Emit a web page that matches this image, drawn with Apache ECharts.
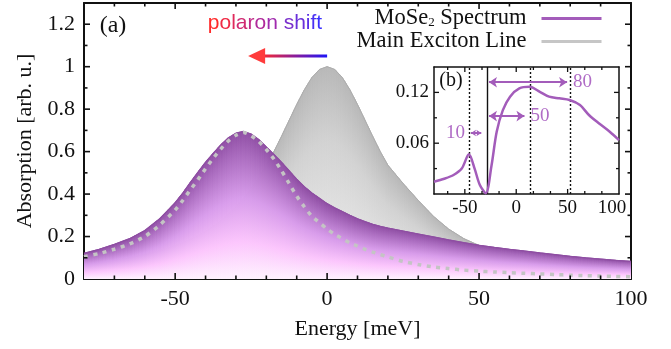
<!DOCTYPE html>
<html>
<head>
<meta charset="utf-8">
<script src="https://cdn.jsdelivr.net/npm/echarts@6/dist/echarts.min.js"></script>
<style>
html, body { margin: 0; padding: 0; background: #fff; }
#chart { width: 671px; height: 349px; }
</style>
</head>
<body>
<div id="chart"></div>
<script>
// main panel (a)
const energy = [-80,-75,-70,-65,-60,-55,-50,-47.5,-45,-42.5,-40,-37.5,-35,-32.5,-30,-27.5,-25,-22.5,-20,-17.5,-15,-12.5,-10,-7.5,-5,-2.5,0,2.5,5,7.5,10,12.5,15,17.5,20,25,30,35,40,45,50,55,60,65,70,75,80,85,90,95,100];
const mose2 = [0.121,0.14,0.163,0.19,0.228,0.285,0.36,
  0.405,0.455,0.503,0.55,0.592,0.632,0.665,0.687,0.695,0.683,0.657,0.622,0.587,0.55,0.51,0.47,0.435,0.405,0.38,0.355,0.335,0.318,0.3,0.284,0.27,0.258,0.248,0.24,
  0.226,0.212,0.198,0.184,0.171,0.159,0.149,0.14,0.132,0.123,0.115,0.107,0.1,0.094,0.088,0.083];
const exciton = [0.067,0.076,0.086,0.099,0.114,0.133,0.156,
  0.17,0.186,0.204,0.224,0.247,0.274,0.304,0.339,0.379,0.425,0.477,0.536,0.6,0.672,0.747,0.822,0.891,0.949,0.987,1,0.987,0.949,0.891,0.822,0.747,0.672,0.6,0.536,
  0.45,0.37,0.295,0.235,0.19,0.158,0.134,0.115,0.1,0.087,0.077,0.068,0.061,0.055,0.05,0.045];
const shifted = [0.105,0.12,0.14,0.165,0.2,0.255,0.325,
  0.37,0.42,0.468,0.52,0.568,0.612,0.65,0.677,0.69,0.675,0.648,0.61,0.565,0.51,0.45,0.39,0.34,0.295,0.265,0.235,0.21,0.19,0.17,0.155,0.14,0.127,0.115,0.104,
  0.083,0.068,0.057,0.049,0.042,0.037,0.033,0.03,0.027,0.024,0.021,0.018,0.016,0.014,0.012,0.011];

// inset (b)
const insetEnergy = [-80,-70,-61,-53,-46,-40.5,-35.5,-29.6,-24,-19,-13,-6,3,13,23,32,42,52,62,71,81,91,100];
const insetAbs = [0.0145,0.018,0.0224,0.03,0.047,0.03,0.011,0.001,0.034,0.0735,0.099,0.115,0.1247,0.1266,0.1207,0.115,0.113,0.111,0.105,0.093,0.083,0.0735,0.0637];
const insetDotted = [-46, 14, 53];
const insetSolid = -28.5;
const insetArrows = [
  {from: -44, to: -34, y: 0.072, label: '10', pos: 'start', head: 5},
  {from: -26.5, to: 8, y: 0.092, label: '50', pos: 'end', head: 8},
  {from: -26.5, to: 49.5, y: 0.132, label: '80', pos: 'end', head: 8}
];

// tick marks (mirrored on all four sides of each frame)
const mainXMajor = [-50, 0, 50];
const mainXMinor = [-70, -60, -40, -30, -20, -10, 10, 20, 30, 40, 60, 70, 80, 90];
const mainYMajor = [0.2, 0.4, 0.6, 0.8, 1.0, 1.2];
const mainYMinor = [0.1, 0.3, 0.5, 0.7, 0.9, 1.1];
const insetXMajor = [-50, 0, 50];
const insetXMinor = [-66.7, -33.3, -16.7, 16.7, 33.3, 66.7, 83.3];
const insetYMajor = [0.06, 0.12];
const insetYMinor = [0.03, 0.09];

const SERIF = 'Liberation Serif';
const INK = '#111';
const PURPLE = '#a35cba';

const pairs = (xs, ys) => xs.map((x, i) => [x, ys[i]]);

// area under a curve, every thin slice shaded from its own top down to zero
function columnFill(name, ys, stops, z) {
  return {
    name: name,
    type: 'custom',
    xAxisIndex: 0,
    yAxisIndex: 0,
    z: z,
    silent: true,
    clip: true,
    data: energy.map((x, i) => {
      let j = Math.min(i + 1, energy.length - 1);
      return [x, ys[i], energy[j], ys[j]];
    }),
    encode: {x: [0, 2], y: [1, 3]},
    renderItem: function (params, api) {
      if (params.dataIndex >= energy.length - 1) return {type: 'group', children: []};
      let a = api.coord([api.value(0), api.value(1)]);
      let b = api.coord([api.value(2), api.value(3)]);
      let base = api.coord([api.value(0), 0])[1];
      let w = b[0] - a[0];
      let m = Math.max(1, Math.ceil(w / 1.5));
      let children = [];
      for (let k = 0; k < m; k++) {
        let x0 = a[0] + w * k / m, x1 = a[0] + w * (k + 1) / m;
        let y0 = a[1] + (b[1] - a[1]) * k / m, y1 = a[1] + (b[1] - a[1]) * (k + 1) / m;
        let grad = new echarts.graphic.LinearGradient(0, (y0 + y1) / 2, 0, base, stops, true);
        children.push({
          type: 'polygon',
          shape: {points: [[x0, y0], [x1, y1], [x1, base], [x0, base]]},
          style: {fill: grad, stroke: grad, lineWidth: 0.6}
        });
      }
      return {type: 'group', children: children};
    }
  };
}

function frameAxis(dim, gridIndex, position, show, fs, extra) {
  return Object.assign({
    type: 'value',
    gridIndex: gridIndex,
    position: position,
    axisLine: {show: true, onZero: false, lineStyle: {color: INK, width: gridIndex === 0 ? 2 : 1.5}},
    axisTick: {show: false},
    minorTick: {show: false},
    splitLine: {show: false},
    axisLabel: {
      show: show,
      color: INK,
      fontFamily: SERIF,
      fontSize: fs,
      margin: gridIndex === 0 ? 9 : 5,
      showMinLabel: dim === 'y',
      showMaxLabel: dim === 'x'
    }
  }, extra);
}

const xMain = {min: -80, max: 100, minInterval: 50, maxInterval: 50, splitNumber: 4};
const yMain = {min: 0, max: 1.3, interval: 0.2};
const yInset = {min: 0, max: 0.15, interval: 0.06};

let chart = echarts.init(document.getElementById('chart'));

chart.setOption({
  animation: false,
  backgroundColor: '#fff',
  grid: [
    {left: 84, right: 40, top: 3, bottom: 70},
    {left: 434, top: 67, width: 185, height: 127}
  ],
  legend: {
    orient: 'vertical',
    right: 63,
    top: 2,
    align: 'right',
    itemWidth: 60,
    itemHeight: 14,
    itemGap: 0,
    selectedMode: false,
    data: [
      {name: 'MoSe2 Spectrum', lineStyle: {color: PURPLE, width: 3}, itemStyle: {opacity: 0}},
      {name: 'Main Exciton Line', lineStyle: {color: '#c6c6c6', width: 3}, itemStyle: {opacity: 0}}
    ],
    formatter: function (name) {
      if (name === 'MoSe2 Spectrum') return '{t|MoSe}{s|2}{t| Spectrum}';
      return '{t|' + name + '}';
    },
    textStyle: {
      color: INK,
      fontFamily: SERIF,
      fontSize: 22.5,
      padding: [0, 10, 0, 0],
      rich: {
        t: {fontFamily: SERIF, fontSize: 22.5, lineHeight: 24, color: INK},
        s: {fontFamily: SERIF, fontSize: 13, lineHeight: 13, color: INK, padding: [9, 0, 0, 0]}
      }
    }
  },
  xAxis: [
    frameAxis('x', 0, 'bottom', true, 22, Object.assign({
      name: 'Energy [meV]', nameLocation: 'middle', nameGap: 39,
      nameTextStyle: {color: INK, fontFamily: SERIF, fontSize: 22}
    }, xMain)),
    frameAxis('x', 0, 'top', false, 22, Object.assign({}, xMain)),
    frameAxis('x', 1, 'bottom', true, 19, Object.assign({
      axisLabel: {show: true, color: INK, fontFamily: SERIF, fontSize: 19, margin: 5,
        showMinLabel: false, showMaxLabel: true,
        formatter: v => v === 100 ? '{r|100}' : String(v),
        rich: {r: {fontFamily: SERIF, fontSize: 19, color: INK, padding: [0, 14, 0, 0]}}}
    }, xMain)),
    frameAxis('x', 1, 'top', false, 19, Object.assign({}, xMain))
  ],
  yAxis: [
    frameAxis('y', 0, 'left', true, 22, Object.assign({
      name: 'Absorption [arb. u.]', nameLocation: 'middle', nameGap: 47,
      nameTextStyle: {color: INK, fontFamily: SERIF, fontSize: 22}
    }, yMain)),
    frameAxis('y', 0, 'right', false, 22, Object.assign({}, yMain)),
    frameAxis('y', 1, 'left', true, 19, Object.assign({
      axisLabel: {show: true, color: INK, fontFamily: SERIF, fontSize: 19, margin: 5,
        showMinLabel: false, showMaxLabel: false, formatter: v => v.toFixed(2)}
    }, yInset)),
    frameAxis('y', 1, 'right', false, 19, Object.assign({}, yInset))
  ],
  series: [
    columnFill('exciton fill', exciton, [
      {offset: 0, color: '#b8b8b8'},
      {offset: 0.35, color: '#d2d2d2'},
      {offset: 1, color: '#eeeeee'}
    ], 1),
    {
      name: 'Main Exciton Line', type: 'line', xAxisIndex: 0, yAxisIndex: 0, z: 2,
      data: pairs(energy, exciton), symbol: 'none', silent: true,
      itemStyle: {color: '#c6c6c6'},
      lineStyle: {color: '#adadad', width: 1}
    },
    columnFill('spectrum fill', mose2, [
      {offset: 0, color: '#8f4ea4'},
      {offset: 0.15, color: '#a869bd'},
      {offset: 0.45, color: '#d89ceb'},
      {offset: 0.75, color: '#fcc6fd'},
      {offset: 1, color: '#fff2ff'}
    ], 3),
    {
      name: 'MoSe2 Spectrum', type: 'line', xAxisIndex: 0, yAxisIndex: 0, z: 4,
      data: pairs(energy, mose2), symbol: 'none', silent: true,
      itemStyle: {color: PURPLE},
      lineStyle: {color: '#8e4ea2', width: 1.2}
    },
    {
      name: 'Shifted Exciton Line', type: 'line', xAxisIndex: 0, yAxisIndex: 0, z: 5,
      data: pairs(energy, shifted), symbol: 'none', smooth: 0.2, silent: true,
      lineStyle: {color: '#c4c4c4', width: 3.5, type: [4, 5.5], cap: 'butt'}
    },
    {
      name: 'Inset Spectrum', type: 'line', xAxisIndex: 2, yAxisIndex: 2, z: 6,
      data: pairs(insetEnergy, insetAbs), symbol: 'none', smooth: 0.3, silent: true,
      lineStyle: {color: PURPLE, width: 2.5},
      markLine: {
        silent: true,
        symbol: 'none',
        animation: false,
        label: {show: false},
        data: insetDotted.map(x => ({xAxis: x, lineStyle: {color: INK, width: 1.4, type: [2, 2]}}))
          .concat([{xAxis: insetSolid, lineStyle: {color: INK, width: 1.4, type: 'solid'}}])
          .concat(insetArrows.map(a => [
            {
              coord: [a.from, a.y], symbol: 'arrow', symbolSize: a.head,
              lineStyle: {color: PURPLE, width: 2, type: 'solid'},
              label: {show: true, position: a.pos, formatter: a.label, distance: 6,
                color: '#b06cc6', fontFamily: SERIF, fontSize: 19}
            },
            {coord: [a.to, a.y], symbol: 'arrow', symbolSize: a.head}
          ]))
      }
    }
  ]
});

// inward ticks on all four sides of a frame, placed with the axes' own scales
function frameTicks(finder, xr, yr, xMajor, xMinor, yMajor, yMinor, majorLen, minorLen, width) {
  let lo = chart.convertToPixel(finder, [xr[0], yr[0]]);
  let hi = chart.convertToPixel(finder, [xr[1], yr[1]]);
  let els = [];
  let add = (x1, y1, x2, y2) => els.push({
    type: 'line', silent: true, z: 100,
    shape: {x1: x1, y1: y1, x2: x2, y2: y2},
    style: {stroke: INK, lineWidth: width}
  });
  let xt = (v, len) => {
    let px = chart.convertToPixel(finder, [v, yr[0]])[0];
    add(px, lo[1], px, lo[1] - len);
    add(px, hi[1], px, hi[1] + len);
  };
  let yt = (v, len) => {
    let py = chart.convertToPixel(finder, [xr[0], v])[1];
    add(lo[0], py, lo[0] + len, py);
    add(hi[0], py, hi[0] - len, py);
  };
  xMajor.forEach(v => xt(v, majorLen));
  xMinor.forEach(v => xt(v, minorLen));
  yMajor.forEach(v => yt(v, majorLen));
  yMinor.forEach(v => yt(v, minorLen));
  return els;
}

// annotations of panel (a)
let tail = chart.convertToPixel({xAxisIndex: 0, yAxisIndex: 0}, [0, 1.05]);
let tip = chart.convertToPixel({xAxisIndex: 0, yAxisIndex: 0}, [-26, 1.05]);
const shiftColors = ['#ff2b2b','#f02a45','#e02a5c','#d02a72','#c02a88','#b02a9b','#a02aae','#8a2ec0','#7a30cc','#6a30da','#5a30e6','#4a30f2','#3a30ff'];
const shiftText = 'polaron shift';
let rich = {};
let richText = '';
for (let i = 0; i < shiftText.length; i++) {
  rich['c' + i] = {fill: shiftColors[i], fontFamily: 'Liberation Sans', fontSize: 21};
  richText += '{c' + i + '|' + shiftText[i] + '}';
}

let ticks = frameTicks({xAxisIndex: 0, yAxisIndex: 0}, [-80, 100], [0, 1.3],
  mainXMajor, mainXMinor, mainYMajor, mainYMinor, 6, 3.5, 1.6)
  .concat(frameTicks({xAxisIndex: 2, yAxisIndex: 2}, [-80, 100], [0, 0.15],
  insetXMajor, insetXMinor, insetYMajor, insetYMinor, 5, 3, 1.3));

chart.setOption({
  graphic: ticks.concat([
    {type: 'text', x: 113, y: 26, silent: true,
      style: {text: '(a)', fill: INK, fontFamily: SERIF, fontSize: 24, align: 'center', verticalAlign: 'middle'}},
    {type: 'text', x: 451, y: 81, silent: true, z: 10,
      style: {text: '(b)', fill: INK, fontFamily: SERIF, fontSize: 20, align: 'center', verticalAlign: 'middle'}},
    {type: 'text', x: 265, y: 23, silent: true,
      style: {text: richText, rich: rich, align: 'center', verticalAlign: 'middle'}},
    {type: 'line', silent: true,
      shape: {x1: tip[0] + 15, y1: tip[1], x2: tail[0], y2: tail[1]},
      style: {lineWidth: 3, stroke: new echarts.graphic.LinearGradient(0, 0, 1, 0, [
        {offset: 0, color: '#ff2a2a'}, {offset: 0.5, color: '#8a1c9a'}, {offset: 1, color: '#1414ff'}
      ])}},
    {type: 'polygon', silent: true,
      shape: {points: [[tip[0], tip[1]], [tip[0] + 17, tip[1] - 8], [tip[0] + 17, tip[1] + 8]]},
      style: {fill: '#ff3b3b'}}
  ])
});
</script>
</body>
</html>
